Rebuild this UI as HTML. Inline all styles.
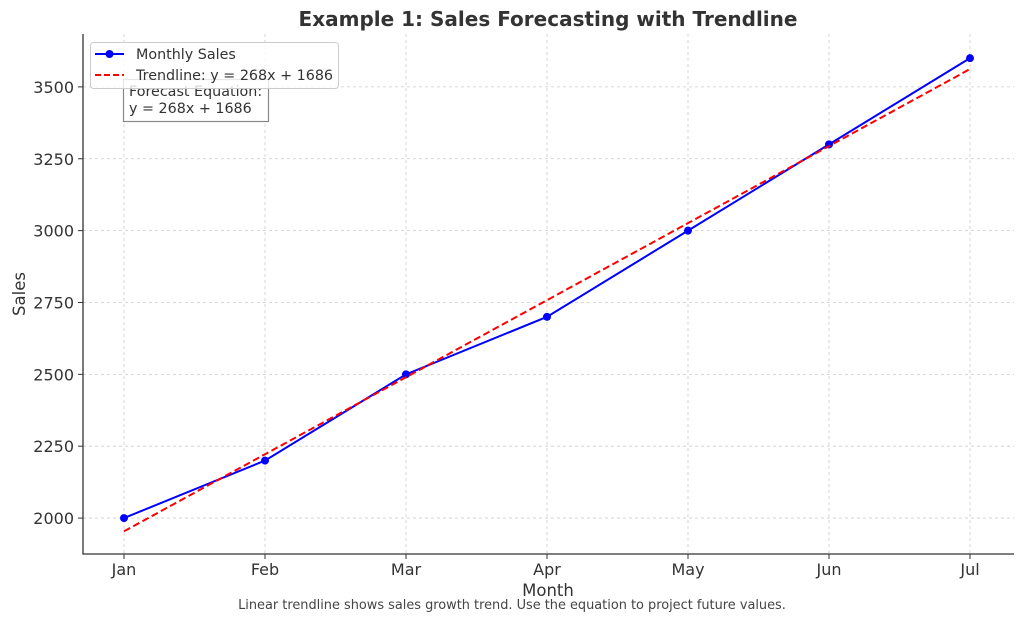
<!DOCTYPE html>
<html><head><meta charset="utf-8"><style>
html,body{margin:0;padding:0;background:#fff;}
svg{display:block;font-family:"DejaVu Sans","Liberation Sans",sans-serif;}
</style></head><body>
<svg id="chart" width="1024" height="622" viewBox="0 0 1024 622">
<text x="548" y="26" text-anchor="middle" font-size="20" font-weight="bold" fill="#333">Example 1: Sales Forecasting with Trendline</text>
<g id="grid"></g>
<g id="axes"></g>
<g id="series"></g>
<text x="548" y="596" text-anchor="middle" font-size="16.5" fill="#333">Month</text>
<text transform="translate(25,294) rotate(-90)" text-anchor="middle" font-size="16.5" fill="#333">Sales</text>
<text x="512" y="609" text-anchor="middle" font-size="12.9" fill="#444">Linear trendline shows sales growth trend. Use the equation to project future values.</text>
<g>
<rect x="123.5" y="79.5" width="145" height="42" fill="#fff" stroke="#888" stroke-width="1.2"/>
<text x="129" y="96" font-size="14.3" fill="#333">Forecast Equation:</text>
<text x="129" y="113" font-size="14.3" fill="#333">y = 268x + 1686</text>
</g>
<g>
<rect x="90.5" y="42.5" width="248" height="46" rx="3" fill="#fff" fill-opacity="0.8" stroke="#ccc"/>
<g>
<line x1="95" y1="54" x2="124" y2="54" stroke="#0000ff" stroke-width="2"/>
<circle cx="109.5" cy="54" r="4" fill="#0000ff"/>
<text x="136" y="59" font-size="14.3" fill="#333">Monthly Sales</text>
</g>
<g>
<line x1="95" y1="75" x2="124" y2="75" stroke="#ff0000" stroke-width="2" stroke-dasharray="6,3"/>
<text x="136" y="80" font-size="14.3" fill="#333">Trendline: y = 268x + 1686</text>
</g>
</g>
</svg>
<script>
const months = ["Jan","Feb","Mar","Apr","May","Jun","Jul"];
const sales = [2000,2200,2500,2700,3000,3300,3600];
const trendSlope = 268;
const trendIntercept = 1686;
const yTicks = [2000,2250,2500,2750,3000,3250,3500];

const NS="http://www.w3.org/2000/svg";
const L=83,R=1014,T=34,B=554;
const x0=124,xStep=141;
const yMin=1875,yMax=3684;
const xs=i=>x0+i*xStep;
const ys=v=>B-(v-yMin)/(yMax-yMin)*(B-T);
function mk(tag,attrs,parent){const e=document.createElementNS(NS,tag);for(const k in attrs)e.setAttribute(k,attrs[k]);parent.appendChild(e);return e;}
const grid=document.getElementById('grid'),axes=document.getElementById('axes'),series=document.getElementById('series');

yTicks.forEach(v=>{
  const y=ys(v);
  const g=mk('line',{x1:L,x2:R,y1:y,y2:y,stroke:'#ccc','stroke-dasharray':'3,3','stroke-width':0.8},grid);
  
  
  mk('line',{x1:L-5,x2:L,y1:y,y2:y,stroke:'#333','stroke-width':1},axes);
  const t=mk('text',{x:L-9,y:y+6,'text-anchor':'end','font-size':16,fill:'#333'},axes);
  t.textContent=v;
  
  
});
months.forEach((m,i)=>{
  const x=xs(i);
  const g=mk('line',{x1:x,x2:x,y1:T,y2:B,stroke:'#ccc','stroke-dasharray':'3,3','stroke-width':0.8},grid);
  
  
  mk('line',{x1:x,x2:x,y1:B,y2:B+5,stroke:'#333','stroke-width':1},axes);
  const t=mk('text',{x:x,y:B+21,'text-anchor':'middle','font-size':16,fill:'#333'},axes);
  t.textContent=m;
  
  
});
mk('line',{x1:L,x2:L,y1:T,y2:B+0.6,stroke:'#333','stroke-width':1.3},axes);
mk('line',{x1:L,x2:R,y1:B,y2:B,stroke:'#333','stroke-width':1.3},axes);

const sp=mk('polyline',{points:sales.map((v,i)=>xs(i)+','+ys(v)).join(' '),fill:'none',stroke:'#0000ff','stroke-width':2},series);


sales.forEach((v,i)=>{
  const c=mk('circle',{cx:xs(i),cy:ys(v),r:4,fill:'#0000ff'},series);
  
  
});
const tp=mk('polyline',{points:months.map((m,i)=>xs(i)+','+ys(trendSlope*(i+1)+trendIntercept)).join(' '),fill:'none',stroke:'#ff0000','stroke-width':2,'stroke-dasharray':'7,3.5'},series);


</script>
</body></html>
